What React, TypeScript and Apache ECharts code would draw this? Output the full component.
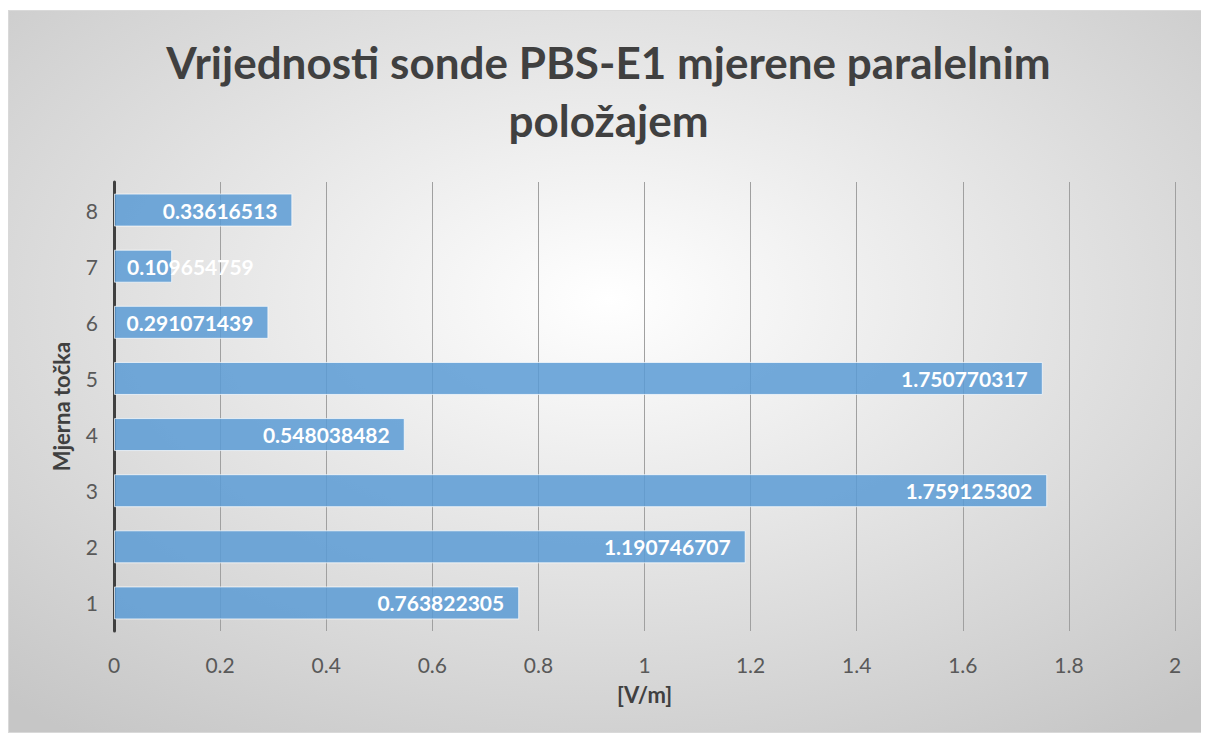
import React, { useEffect, useRef } from "react";
import * as echarts from "echarts";

const categories = ["1", "2", "3", "4", "5", "6", "7", "8"];
const values = [0.763822305, 1.190746707, 1.759125302, 0.548038482, 1.750770317, 0.291071439, 0.109654759, 0.33616513];
const labels = ["0.763822305", "1.190746707", "1.759125302", "0.548038482", "1.750770317", "0.291071439", "0.109654759", "0.33616513"];
const xTicks = { min: 0, max: 2, interval: 0.2 };
const titleText = "Vrijednosti sonde PBS-E1 mjerene paralelnim\npoložajem";
const xName = "[V/m]";
const yName = "Mjerna točka";

export default function App() {
  const ref = useRef<HTMLDivElement>(null);
  useEffect(() => {
    const chart = echarts.init(ref.current!, null, { renderer: "svg" });
    const font = "Lato, 'Open Sans', sans-serif";
    chart.setOption({
      animation: false,
      backgroundColor: {
        type: "radial",
        x: 0.5,
        y: 0.4,
        r: 0.75,
        colorStops: [
          { offset: 0, color: "#ffffff" },
          { offset: 1, color: "#c6c6c6" },
        ],
      },
      title: {
        text: titleText,
        left: "center",
        top: 17,
        textStyle: {
          fontFamily: font,
          fontWeight: "bold",
          fontSize: 44,
          color: "#404040",
          lineHeight: 58,
        },
      },
      grid: { left: 105, right: 33, top: 171, bottom: 101, containLabel: false },
      xAxis: {
        type: "value",
        min: xTicks.min,
        max: xTicks.max,
        interval: xTicks.interval,
        name: xName,
        nameLocation: "middle",
        nameGap: 52,
        nameTextStyle: { fontFamily: font, fontWeight: "bold", fontSize: 22, color: "#404040" },
        axisLine: { show: false },
        axisTick: { show: false },
        axisLabel: {
          margin: 23,
          fontFamily: font,
          fontSize: 21,
          color: "#595959",
          formatter: (v: number) => String(Math.round(v * 10) / 10),
        },
        splitLine: { show: true, lineStyle: { color: "#a0a0a0", width: 1 } },
      },
      yAxis: {
        type: "category",
        data: categories,
        name: yName,
        nameLocation: "middle",
        nameGap: 42,
        nameTextStyle: { fontFamily: font, fontWeight: "bold", fontSize: 22, color: "#404040" },
        axisLine: { show: true, lineStyle: { color: "#404040", width: 3 } },
        axisTick: { show: false },
        axisLabel: { margin: 16, fontFamily: font, fontSize: 21, color: "#595959" },
        splitLine: { show: false },
      },
      series: [
        {
          type: "bar",
          barWidth: 33,
          data: values.map((v, i) => {
            const item: any = { value: v };
            if (i === 6) {
              item.label = { position: "insideLeft", distance: 13 };
            }
            return item;
          }),
          itemStyle: {
            color: "rgba(91,155,213,0.85)",
            borderColor: "rgba(255,255,255,0.7)",
            borderWidth: 1,
          },
          label: {
            show: true,
            position: "insideRight",
            distance: 15,
            fontFamily: font,
            fontWeight: "bold",
            fontSize: 21,
            color: "#ffffff",
            formatter: (p: any) => labels[p.dataIndex],
          },
        },
      ],
    });
    return () => chart.dispose();
  }, []);
  return (
    <div
      ref={ref}
      style={{
        width: 1201,
        height: 723,
        marginTop: 2,
        boxSizing: "border-box",
        border: "1px solid #d9d9d9",
      }}
    />
  );
}
